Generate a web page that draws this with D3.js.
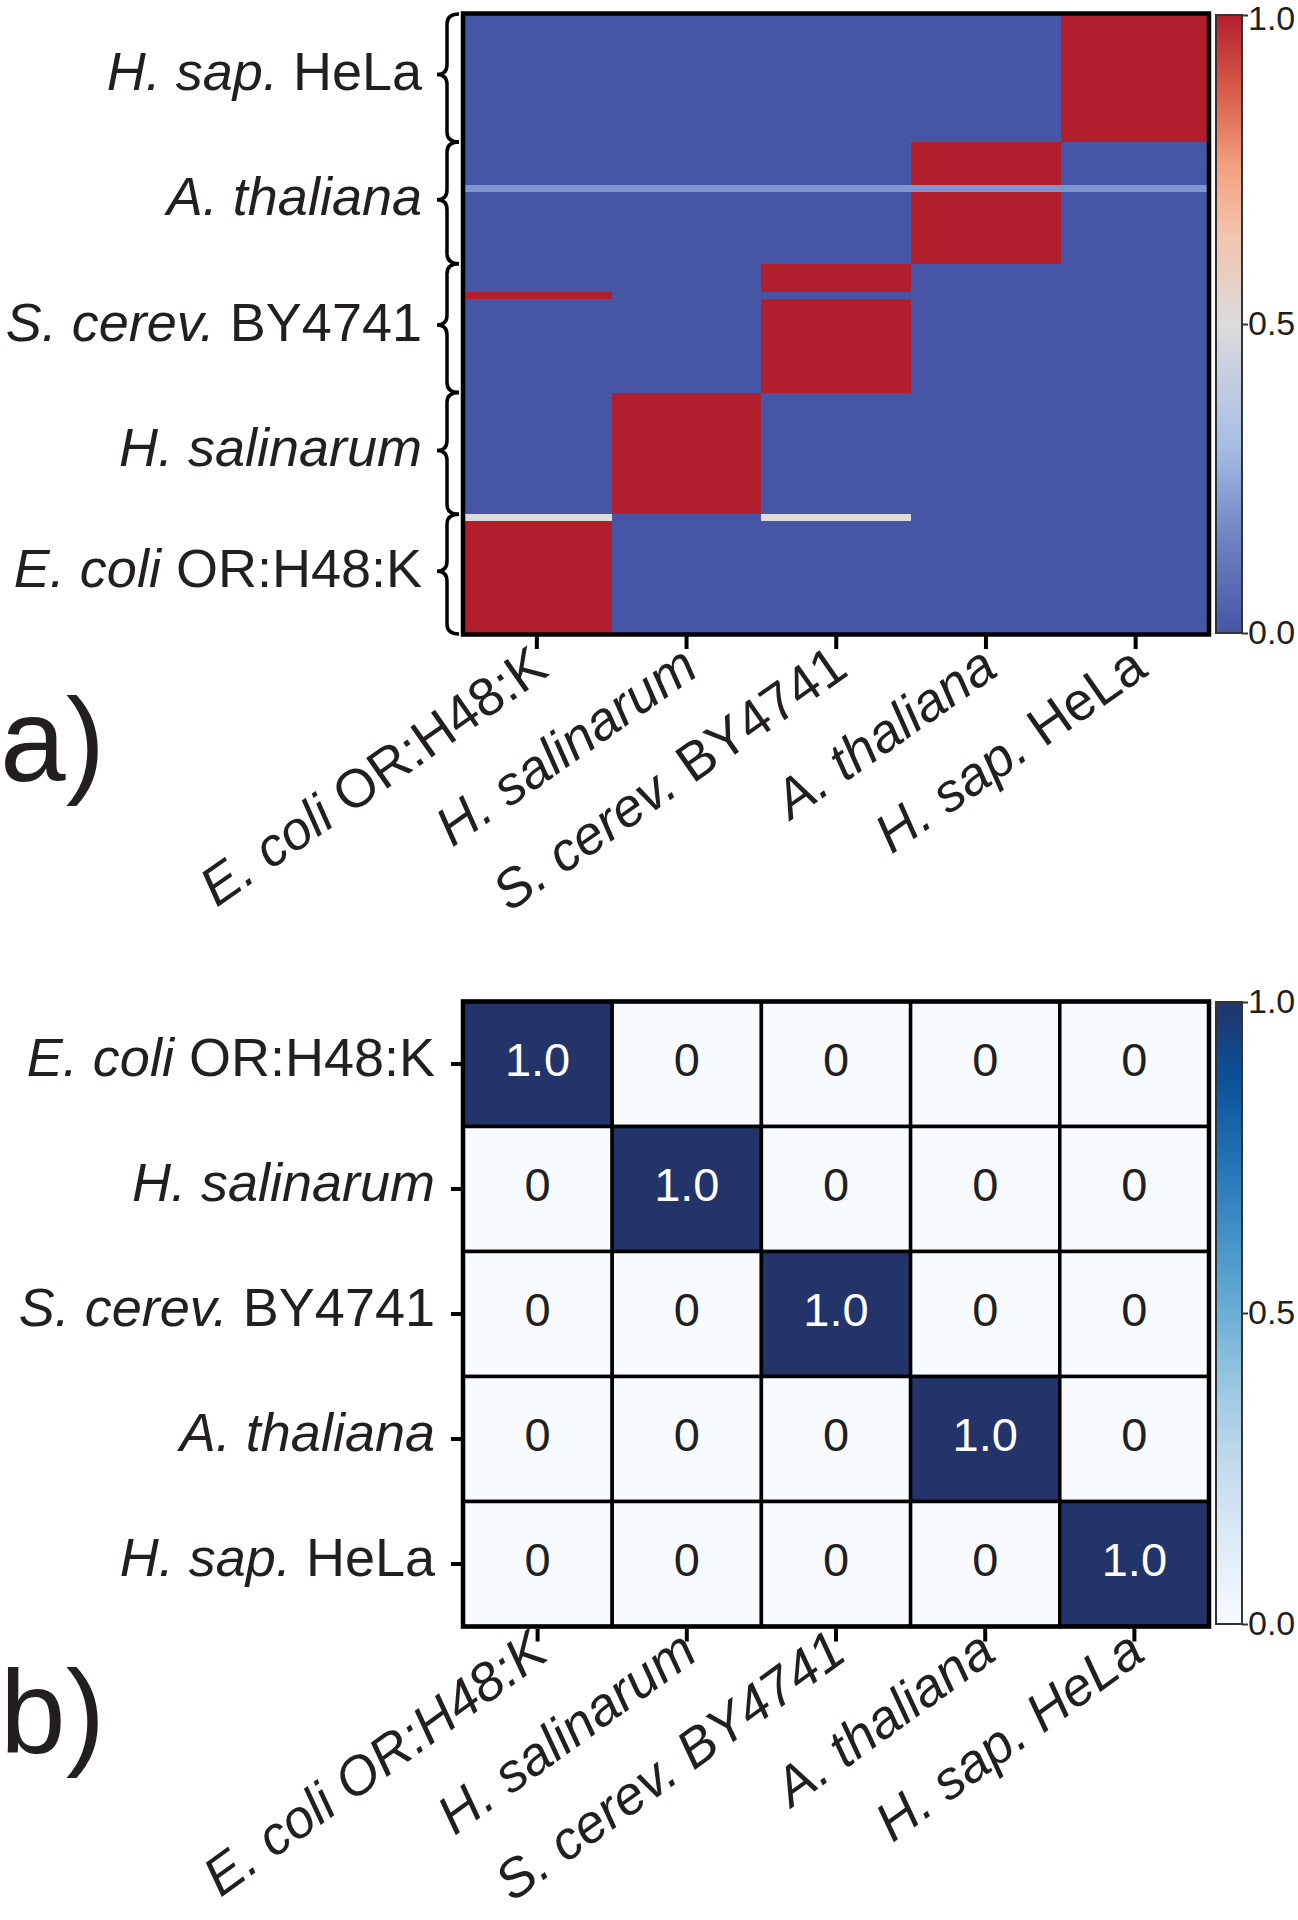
<!DOCTYPE html>
<html>
<head>
<meta charset="utf-8">
<script src="https://cdn.jsdelivr.net/npm/d3@7"></script>
<style>
  html, body { margin: 0; padding: 0; background: #ffffff; }
  svg { display: block; }
  text { font-family: "Liberation Sans", Arial, Helvetica, sans-serif; fill: #231f20; }
</style>
</head>
<body>
<div id="chart"></div>
<script>
// ---------------- DATA ----------------
// Classes (columns of both heatmaps), split into italic species part and roman strain part
const classItalic = ["E. coli", "H. salinarum", "S. cerev.", "A. thaliana", "H. sap."];
const classRoman  = [" OR:H48:K", "", " BY4741", "", " HeLa"];

// Panel a) : per-sample predicted probabilities, listed top to bottom as runs of identical rows
const runGroup  = [4, 3, 3, 3, 2, 2, 2, 1, 0, 0];           // true class index of each run
const runCount  = [18, 6, 1, 10, 4, 1, 13, 17, 1, 16];      // number of sample rows in each run
const runProbs  = [
  [0, 0, 0, 0, 1],
  [0, 0, 0, 1, 0],
  [0.2, 0.2, 0.2, 0.2, 0.2],
  [0, 0, 0, 1, 0],
  [0, 0, 1, 0, 0],
  [1, 0, 0, 0, 0],
  [0, 0, 1, 0, 0],
  [0, 1, 0, 0, 0],
  [0.5, 0, 0.5, 0, 0],
  [1, 0, 0, 0, 0]
];

// Panel b) : confusion matrix (rows top to bottom = classes in order)
const confusion = [
  [1.0, 0, 0, 0, 0],
  [0, 1.0, 0, 0, 0],
  [0, 0, 1.0, 0, 0],
  [0, 0, 0, 1.0, 0],
  [0, 0, 0, 0, 1.0]
];

const colorbarTicks = [0, 0.5, 1.0];
const panelLetters = ["a)", "b)"];

// ---------------- COLOURS ----------------
const topColor = d3.scaleLinear()
  .domain([0, 0.15, 0.3, 0.5, 0.65, 0.75, 0.87, 1])
  .range(["#4655a5", "#6d82c2", "#a6bce5", "#dcdcdc", "#f3c3ab", "#f4a283", "#d9604c", "#b21f2c"])
  .interpolate(d3.interpolateRgb);
const botColor = t => t <= 0.88 ? d3.interpolateBlues(t)
  : d3.interpolateRgb(d3.interpolateBlues(0.88), "#22346a")((t - 0.88) / 0.12);

// ---------------- SVG ----------------
const W = 1298, H = 1920;
const svg = d3.select("#chart").append("svg").attr("width", W).attr("height", H);
const defs = svg.append("defs");

const FS_LABEL = 54;
const LABEL_LIFT = 7;   // labels sit slightly above the tick / brace centre
const classIdx = d3.range(classItalic.length);

function addLabel(sel, i, allItalic) {
  sel.append("tspan").attr("font-style", "italic").text(classItalic[i]);
  if (classRoman[i]) sel.append("tspan").attr("font-style", allItalic ? "italic" : "normal").text(classRoman[i]);
}

// ================= PANEL A =================
const nSamples = d3.sum(runCount);
const runStart = runCount.map((c, i) => d3.sum(runCount.slice(0, i)));
const xA = d3.scaleBand().domain(classIdx).range([462, 1210.5]);
const yA = d3.scaleBand().domain(d3.range(nSamples)).range([13, 636]);
const rowH = yA.bandwidth();

const gA = svg.append("g");
runProbs.forEach((probs, r) => {
  gA.selectAll(null).data(probs).enter().append("rect")
    .attr("x", (d, j) => xA(j))
    .attr("y", yA(runStart[r]))
    .attr("width", xA.bandwidth() + 0.4)
    .attr("height", runCount[r] * rowH + 0.4)
    .attr("fill", d => topColor(d))
    .attr("shape-rendering", "crispEdges");
});

// x axis ticks
const axA = gA.append("g").attr("transform", "translate(0,636)")
  .call(d3.axisBottom(xA).tickSize(13).tickFormat(""));
axA.select(".domain").remove();
axA.selectAll(".tick line").attr("stroke", "#000").attr("stroke-width", 4);

// frame
gA.append("rect").attr("x", 463).attr("y", 13.5).attr("width", 746).attr("height", 621)
  .attr("fill", "none").attr("stroke", "#000").attr("stroke-width", 4.5);

// rotated column labels
classIdx.forEach(i => {
  const cx = xA(i) + xA.bandwidth() / 2 + 14, cy = 674;
  const t = gA.append("text").attr("text-anchor", "end").attr("font-size", FS_LABEL)
    .attr("transform", `translate(${cx},${cy}) rotate(-35)`);
  addLabel(t, i, false);
});

// group braces + labels
const groups = classIdx.map(g => {
  const idx = runGroup.map((v, k) => v === g ? k : -1).filter(k => k >= 0);
  const s = d3.min(idx, k => runStart[k]);
  const e = d3.max(idx, k => runStart[k] + runCount[k]);
  return { g, y0: yA(s), y1: e === nSamples ? yA.range()[1] - 2 : yA(e) };
});
const xTip = 437, xSpine = 447, xEnd = 459, r = 10;
groups.forEach(({ g, y0, y1 }) => {
  const ym = (y0 + y1) / 2 - 3;
  const a = Math.max(y0, 14), b = Math.min(y1, 634);
  const p = `M${xEnd},${a} Q${xSpine},${a} ${xSpine},${a + r} L${xSpine},${ym - r}
    Q${xSpine},${ym} ${xTip},${ym} Q${xSpine},${ym} ${xSpine},${ym + r}
    L${xSpine},${b - r} Q${xSpine},${b} ${xEnd},${b}`;
  gA.append("path").attr("d", p).attr("fill", "none").attr("stroke", "#000").attr("stroke-width", 3.5);
  const t = gA.append("text").attr("x", 422).attr("y", ym - LABEL_LIFT + 3).attr("dy", "0.36em")
    .attr("text-anchor", "end").attr("font-size", FS_LABEL);
  addLabel(t, g, false);
});

// ================= PANEL B =================
const xB = d3.scaleBand().domain(classIdx).range([463, 1209]);
const yB = d3.scaleBand().domain(classIdx).range([1001.5, 1626.5]);
const gB = svg.append("g");
confusion.forEach((row, ri) => {
  const rowG = gB.append("g");
  rowG.selectAll("rect").data(row).enter().append("rect")
    .attr("x", (d, j) => xB(j)).attr("y", yB(ri))
    .attr("width", xB.bandwidth()).attr("height", yB.bandwidth())
    .attr("fill", d => botColor(d)).attr("stroke", "#000").attr("stroke-width", 3.5);
  rowG.selectAll("text").data(row).enter().append("text")
    .attr("x", (d, j) => xB(j) + xB.bandwidth() / 2)
    .attr("y", yB(ri) + yB.bandwidth() / 2 - 5).attr("dy", "0.36em")
    .attr("text-anchor", "middle").attr("font-size", 47)
    .style("fill", d => d > 0.5 ? "#ffffff" : "#231f20")
    .text(d => d === 0 ? "0" : d3.format(".1f")(d));
});
gB.append("rect").attr("x", 463).attr("y", 1001.5).attr("width", 746).attr("height", 625)
  .attr("fill", "none").attr("stroke", "#000").attr("stroke-width", 4.5);

const axBy = gB.append("g").attr("transform", "translate(461,0)")
  .call(d3.axisLeft(yB).tickSize(10).tickFormat(""));
axBy.select(".domain").remove();
axBy.selectAll(".tick line").attr("stroke", "#000").attr("stroke-width", 4);
classIdx.forEach(i => {
  const t = gB.append("text").attr("x", 435).attr("y", yB(i) + yB.bandwidth() / 2 - LABEL_LIFT).attr("dy", "0.36em")
    .attr("text-anchor", "end").attr("font-size", FS_LABEL);
  addLabel(t, i, false);
});

const axBx = gB.append("g").attr("transform", "translate(0,1628.5)")
  .call(d3.axisBottom(xB).tickSize(13).tickFormat(""));
axBx.select(".domain").remove();
axBx.selectAll(".tick line").attr("stroke", "#000").attr("stroke-width", 4);
classIdx.forEach(i => {
  const cx = xB(i) + xB.bandwidth() / 2 + 13, cy = 1658;
  const t = gB.append("text").attr("text-anchor", "end").attr("font-size", 54)
    .attr("transform", `translate(${cx},${cy}) rotate(-36)`);
  addLabel(t, i, true);
});

// ================= COLORBARS =================
function colorbar(id, y0, y1, colorFn, topDy) {
  const grad = defs.append("linearGradient").attr("id", id)
    .attr("x1", 0).attr("y1", 1).attr("x2", 0).attr("y2", 0);
  d3.range(0, 1.0001, 0.02).forEach(t => {
    grad.append("stop").attr("offset", t).attr("stop-color", colorFn(t));
  });
  svg.append("rect").attr("x", 1216).attr("y", y0).attr("width", 26).attr("height", y1 - y0)
    .attr("fill", `url(#${id})`).attr("stroke", "#333333").attr("stroke-width", 2);
  const sc = d3.scaleLinear().domain([0, 1]).range([y1, y0]);
  const ax = svg.append("g").attr("transform", "translate(1242,0)")
    .call(d3.axisRight(sc).tickValues(colorbarTicks).tickFormat(d3.format(".1f")).tickSize(6).tickPadding(0));
  ax.select(".domain").remove();
  ax.selectAll(".tick line").attr("stroke", "#333333").attr("stroke-width", 2);
  ax.selectAll(".tick text").attr("font-size", 34).attr("font-family", "Liberation Sans, Arial, sans-serif")
    .style("fill", "#231f20")
    .attr("dy", d => d === 1 ? topDy : "0.32em");
}
colorbar("gradA", 15, 633, topColor, "0.42em");
colorbar("gradB", 1002, 1624, botColor, "0.32em");

// ================= PANEL LETTERS =================
svg.append("text").attr("x", 0).attr("y", 781).attr("font-size", 118).text(panelLetters[0]);
svg.append("text").attr("x", 0).attr("y", 1753).attr("font-size", 118).text(panelLetters[1]);
</script>
</body>
</html>
